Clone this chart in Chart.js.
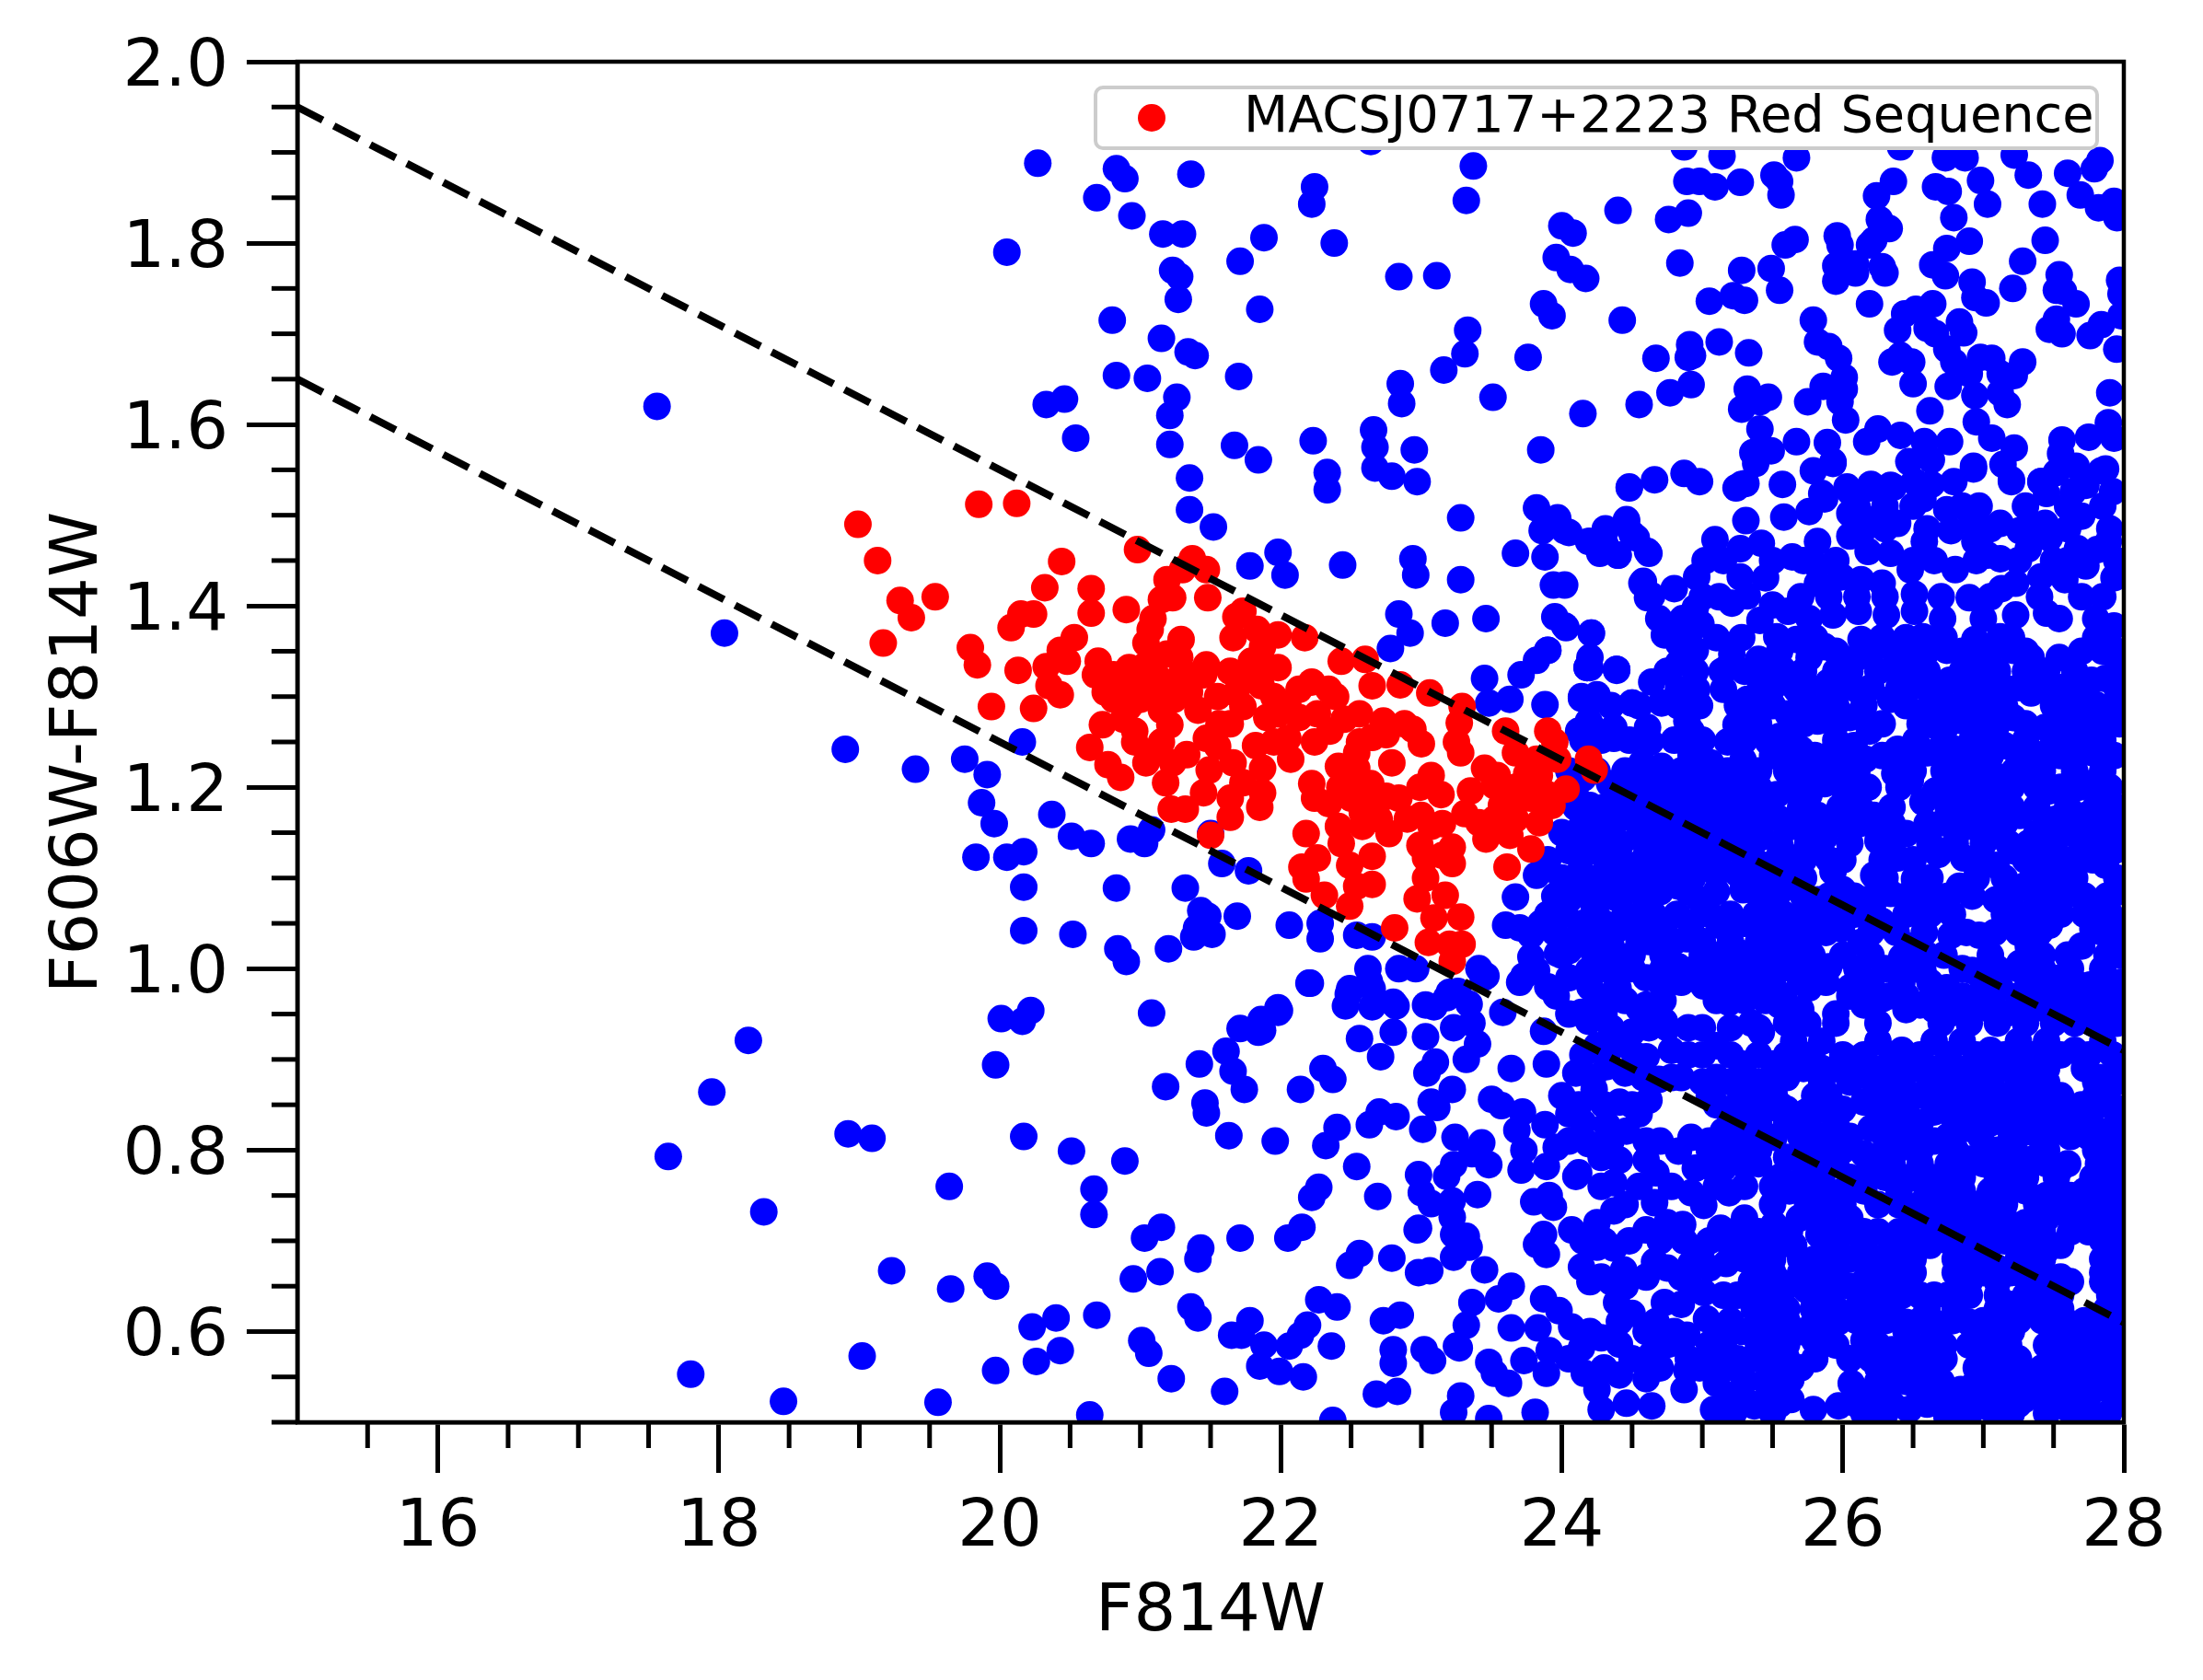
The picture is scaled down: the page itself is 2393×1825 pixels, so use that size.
<!DOCTYPE html>
<html><head><meta charset="utf-8">
<style>html,body{margin:0;padding:0;background:#fff}canvas{display:block}</style>
<script src="https://cdn.jsdelivr.net/npm/chart.js@4/dist/chart.umd.min.js"></script>
</head><body><canvas id="c" width="2393" height="1825"></canvas>
<script>
const xMajorTicks=[16,18,20,22,24,26,28];
const xMinorTicks=[15.5,16.5,17,17.5,18.5,19,19.5,20.5,21,21.5,22.5,23,23.5,24.5,25,25.5,26.5,27,27.5];
const yMajorTicks=[0.6,0.8,1.0,1.2,1.4,1.6,1.8,2.0];
const yMinorTicks=[0.5,0.55,0.65,0.7,0.75,0.85,0.9,0.95,1.05,1.1,1.15,1.25,1.3,1.35,1.45,1.5,1.55,1.65,1.7,1.75,1.85,1.9,1.95];
const upperLine=[{x:15,y:1.95},{x:28,y:0.91}];
const lowerLine=[{x:15,y:1.65},{x:28,y:0.61}];
const legendLabel="MACSJ0717+2223 Red Sequence";
const redPoints=[[18.99,1.49],[19.85,1.512],[20.12,1.513],[19.13,1.45],[19.29,1.406],[19.37,1.387],[19.54,1.41],[19.17,1.359],[19.79,1.354],[19.84,1.335],[19.94,1.289],[20.24,1.287],[20.13,1.329],[20.08,1.376],[20.15,1.391],[20.24,1.391],[20.44,1.449],[20.32,1.42],[20.65,1.419],[20.65,1.392],[20.9,1.396],[20.98,1.462],[21.37,1.452],[21.47,1.44],[21.3,1.44],[21.19,1.429],[21.23,1.409],[21.15,1.407],[21.48,1.409],[21.09,1.386],[21.07,1.374],[20.53,1.365],[20.43,1.351],[20.48,1.339],[20.33,1.333],[20.35,1.312],[20.43,1.302],[20.7,1.339],[20.68,1.324],[20.81,1.297],[21.0,1.297],[20.81,1.324],[20.92,1.332],[21.04,1.359],[21.04,1.335],[21.11,1.324],[21.19,1.347],[21.29,1.363],[21.28,1.343],[21.23,1.316],[21.3,1.328],[20.81,1.308],[20.92,1.289],[20.96,1.312],[21.07,1.308],[21.24,1.297],[21.45,1.324],[21.47,1.335],[21.64,1.328],[21.75,1.32],[21.88,1.332],[21.68,1.304],[21.86,1.312],[21.98,1.332],[21.41,1.285],[21.56,1.27],[21.64,1.27],[21.47,1.254],[21.21,1.269],[21.73,1.394],[21.68,1.388],[21.66,1.365],[21.83,1.374],[21.98,1.368],[22.17,1.365],[21.87,1.355],[21.79,1.339],[21.73,1.289],[22.13,1.308],[22.22,1.316],[22.34,1.308],[22.43,1.339],[22.6,1.341],[22.65,1.312],[22.85,1.313],[23.06,1.304],[22.39,1.3],[22.56,1.281],[23.29,1.289],[23.27,1.271],[23.25,1.25],[23.28,1.238],[22.94,1.264],[23.0,1.248],[22.73,1.273],[22.75,1.258],[22.79,1.227],[22.56,1.25],[22.54,1.238],[22.35,1.262],[22.26,1.281],[22.24,1.25],[22.13,1.277],[22.05,1.254],[21.98,1.281],[21.9,1.277],[21.82,1.246],[22.07,1.231],[21.87,1.221],[20.73,1.269],[20.64,1.244],[20.96,1.262],[20.96,1.25],[21.07,1.238],[20.77,1.225],[20.86,1.211],[21.04,1.227],[21.23,1.227],[21.33,1.236],[21.18,1.205],[21.66,1.227],[21.49,1.219],[21.45,1.194],[21.73,1.205],[21.64,1.188],[21.87,1.194],[21.85,1.178],[21.22,1.176],[21.32,1.176],[21.64,1.167],[21.5,1.147],[22.18,1.149],[22.26,1.122],[22.15,1.112],[22.18,1.099],[22.31,1.081],[22.22,1.204],[22.24,1.188],[22.34,1.182],[22.41,1.223],[22.54,1.221],[22.5,1.207],[22.64,1.204],[22.5,1.188],[22.58,1.172],[22.41,1.157],[22.58,1.157],[22.43,1.138],[22.77,1.149],[22.84,1.188],[22.65,1.18],[23.07,1.213],[22.99,1.2],[23.14,1.192],[23.0,1.169],[23.07,1.157],[22.99,1.136],[23.22,1.134],[23.03,1.122],[23.22,1.116],[22.49,1.114],[22.65,1.124],[22.65,1.093],[22.54,1.091],[22.49,1.069],[23.03,1.1],[22.97,1.077],[23.17,1.081],[23.09,1.056],[23.28,1.057],[22.81,1.045],[23.05,1.029],[23.29,1.027],[23.22,1.008],[23.2,1.027],[23.45,1.221],[23.54,1.213],[23.35,1.196],[23.52,1.202],[23.31,1.171],[23.41,1.161],[23.52,1.165],[23.67,1.2],[23.67,1.182],[23.46,1.143],[23.67,1.165],[23.84,1.161],[23.63,1.147],[23.78,1.132],[23.61,1.112],[23.6,1.262],[23.67,1.238],[23.9,1.262],[23.95,1.25],[23.82,1.231],[23.97,1.231],[23.84,1.213],[24.03,1.198],[23.9,1.192],[24.19,1.231],[24.23,1.219],[23.78,1.188],[23.93,1.18],[21.1,1.345],[21.35,1.305],[21.55,1.3],[21.95,1.3],[22.05,1.29],[22.45,1.275],[22.65,1.255],[22.88,1.27],[21.55,1.245],[21.15,1.25],[22.42,1.2],[22.75,1.19],[22.9,1.165],[22.7,1.165],[23.15,1.16],[23.15,1.125],[23.57,1.18],[23.75,1.215],[21.95,1.25],[20.88,1.275],[20.75,1.305],[21.15,1.285]];
const blueLeft=[[17.56,1.62],[18.04,1.37],[18.9,1.242],[19.4,1.22],[19.75,1.231],[19.91,1.214],[19.87,1.183],[19.96,1.16],[19.83,1.123],[20.05,1.123],[20.17,1.129],[20.17,1.09],[20.17,1.042],[20.16,1.25],[20.37,1.17],[20.51,1.146],[20.65,1.138],[20.52,1.038],[20.83,1.089],[20.84,1.022],[20.9,1.008],[20.93,1.143],[21.03,1.138],[21.08,1.153],[21.2,1.022],[21.32,1.089],[21.4,1.045],[21.43,1.064],[21.48,1.058],[21.51,1.038],[21.38,1.035],[21.69,1.058],[21.58,1.116],[21.77,1.108],[21.5,1.149],[22.06,1.048],[22.28,1.05],[22.28,1.033],[22.2,0.984],[21.08,0.951],[20.01,0.945],[20.16,0.942],[20.22,0.954],[19.97,0.894],[20.17,0.815],[20.51,0.799],[20.89,0.788],[20.67,0.757],[20.67,0.729],[19.64,0.76],[18.92,0.818],[19.09,0.813],[17.64,0.793],[17.95,0.864],[18.21,0.921],[18.32,0.732],[19.23,0.667],[19.65,0.647],[19.91,0.661],[19.97,0.65],[21.03,0.703],[21.15,0.715],[20.95,0.658],[21.14,0.666],[20.69,0.618],[20.23,0.605],[20.4,0.615],[19.02,0.573],[17.8,0.553],[18.46,0.523],[19.56,0.522],[19.97,0.557],[20.26,0.567],[20.43,0.579],[20.64,0.508],[21.01,0.59],[21.06,0.576],[21.22,0.548],[21.6,0.534],[21.41,0.68],[21.43,0.692],[21.36,0.627],[21.41,0.615],[21.71,0.703],[21.18,0.87],[21.42,0.895],[21.46,0.852],[21.47,0.841],[21.63,0.816],[21.61,0.909],[21.71,0.934],[21.66,0.887],[21.84,0.93],[21.87,0.932],[21.98,0.952],[21.74,0.867],[21.96,0.81],[22.14,0.867],[22.3,0.89],[22.37,0.878],[22.4,0.825],[22.32,0.805],[22.27,0.759],[22.22,0.748],[22.54,0.782],[22.69,0.749],[22.05,0.703],[22.15,0.715],[21.65,0.596],[21.72,0.596],[21.78,0.612],[21.88,0.585],[21.85,0.562],[21.99,0.556],[22.06,0.584],[22.14,0.596],[22.19,0.607],[22.16,0.55],[22.27,0.635],[22.4,0.627],[22.36,0.584],[22.37,0.502],[22.49,0.673],[22.56,0.686],[22.79,0.681],[22.97,0.712],[22.73,0.612],[22.85,0.618],[22.8,0.58],[22.8,0.565],[22.68,0.531],[22.83,0.534],[22.98,0.665],[23.06,0.667],[23.02,0.58],[23.08,0.568],[23.25,0.584]];
const blueTop=[[20.27,1.888],[20.83,1.882],[20.89,1.871],[21.36,1.876],[20.69,1.85],[20.94,1.83],[21.16,1.81],[21.3,1.81],[21.23,1.77],[21.28,1.763],[21.27,1.738],[22.24,1.862],[22.22,1.843],[22.38,1.8],[20.05,1.79],[21.71,1.78],[21.88,1.806],[21.85,1.727],[20.8,1.715],[21.15,1.695],[20.83,1.654],[21.05,1.651],[20.33,1.622],[20.46,1.628],[20.54,1.585],[21.26,1.63],[21.21,1.61],[21.34,1.68],[21.39,1.676],[21.7,1.653],[21.21,1.578],[21.67,1.577],[21.84,1.561],[21.35,1.541],[21.35,1.506],[21.52,1.487],[22.23,1.582],[22.33,1.547],[22.33,1.528],[21.78,1.444],[21.98,1.459],[22.03,1.434],[22.44,1.445],[22.84,1.763],[23.11,1.764],[22.64,1.912],[23.37,1.885],[23.32,1.847],[23.33,1.704],[23.31,1.678],[23.16,1.66],[22.85,1.645],[22.86,1.623],[22.66,1.594],[22.67,1.575],[22.67,1.552],[22.79,1.543],[22.97,1.537],[22.95,1.572],[23.51,1.63],[23.28,1.497],[22.94,1.452],[22.96,1.434],[23.28,1.429],[22.84,1.391],[22.92,1.37],[22.78,1.353],[23.17,1.381],[23.46,1.386],[23.76,1.674],[23.87,1.733],[23.93,1.72],[24.0,1.819],[24.08,1.811],[23.96,1.784],[24.06,1.771],[24.17,1.761],[24.15,1.612],[23.85,1.572],[24.4,1.836],[24.43,1.715],[24.55,1.622],[24.67,1.673],[24.77,1.635],[24.92,1.644],[24.91,1.688],[24.93,1.676],[24.9,1.674],[24.76,1.826],[24.9,1.833],[24.84,1.778],[24.87,1.906],[25.14,1.896],[25.67,1.894],[26.41,1.906],[26.73,1.894],[26.87,1.894],[27.22,1.897],[27.32,1.875],[27.6,1.877],[27.79,1.882],[27.83,1.891],[24.89,1.868],[24.98,1.868],[25.09,1.862],[25.27,1.867],[25.51,1.875],[25.55,1.868],[25.56,1.853],[26.36,1.868],[26.24,1.852],[26.66,1.862],[26.75,1.857],[26.98,1.869],[27.03,1.843],[27.42,1.843],[27.69,1.853],[27.82,1.839],[27.93,1.846],[27.95,1.828],[26.26,1.826],[26.33,1.816],[26.79,1.828],[25.96,1.808],[25.98,1.798],[25.66,1.804],[25.59,1.798],[26.22,1.803],[26.19,1.798],[26.74,1.794],[26.9,1.802],[27.44,1.803],[25.28,1.77],[25.49,1.772],[25.95,1.775],[26.09,1.777],[25.95,1.758],[26.09,1.767],[26.28,1.774],[26.3,1.767],[26.64,1.776],[26.73,1.764],[27.28,1.78],[27.54,1.765],[26.92,1.757],[27.52,1.748],[27.57,1.747],[27.97,1.759],[25.55,1.748],[25.22,1.742],[25.3,1.737],[25.05,1.736],[26.94,1.74],[27.02,1.734],[27.21,1.75],[26.19,1.733],[27.66,1.733],[26.64,1.733],[26.52,1.727],[26.44,1.722],[27.98,1.744],[25.79,1.715],[26.83,1.713],[26.86,1.701],[27.52,1.716],[27.47,1.705],[27.56,1.7],[27.76,1.698],[27.84,1.71],[27.98,1.72],[26.39,1.704],[26.6,1.706],[26.66,1.7],[25.12,1.691],[25.33,1.679],[25.82,1.691],[25.9,1.686],[25.97,1.673],[27.95,1.683],[26.41,1.676],[26.35,1.669],[26.49,1.669],[26.74,1.683],[26.79,1.669],[26.98,1.674],[27.06,1.673],[27.28,1.669],[26.01,1.652],[26.9,1.656],[27.12,1.656],[27.22,1.654],[26.5,1.645],[26.75,1.642],[26.94,1.632],[27.12,1.635],[27.17,1.622],[25.86,1.642],[26.01,1.639],[25.75,1.625],[25.98,1.625],[25.32,1.639],[25.47,1.63],[25.28,1.617],[25.41,1.625],[27.9,1.635],[26.62,1.615],[26.02,1.605],[26.95,1.603],[27.89,1.602],[25.41,1.595],[26.25,1.595],[26.41,1.588],[26.17,1.581],[25.67,1.581],[25.89,1.58],[26.58,1.581],[26.76,1.581],[27.06,1.585],[27.22,1.574],[27.56,1.583],[27.75,1.586],[27.93,1.585],[25.49,1.571],[25.36,1.569],[25.93,1.559],[25.79,1.549],[26.47,1.559],[26.63,1.561],[26.93,1.554],[27.14,1.556],[27.55,1.568],[27.66,1.554],[27.87,1.551],[24.87,1.546],[24.98,1.537],[24.66,1.539],[24.48,1.531],[25.28,1.534],[25.57,1.534],[27.41,1.537],[27.2,1.539],[26.79,1.537],[25.85,1.524],[26.03,1.531],[26.2,1.534],[26.36,1.531],[26.52,1.536],[26.63,1.534]];
const blueMid=[[25.24,1.53],[25.31,1.535],[25.38,1.557],[25.93,1.557],[25.87,1.518],[26.05,1.526],[26.19,1.53],[26.34,1.533],[26.51,1.537],[26.57,1.518],[26.93,1.551],[27.2,1.537],[27.41,1.537],[27.45,1.524],[27.52,1.547],[27.73,1.533],[27.92,1.526],[27.84,1.549],[27.64,1.526],[26.05,1.502],[26.22,1.495],[26.39,1.491],[25.76,1.504],[25.58,1.498],[25.31,1.494],[24.46,1.493],[24.31,1.485],[24.02,1.483],[26.74,1.506],[26.97,1.51],[26.92,1.493],[27.12,1.491],[27.26,1.483],[27.44,1.491],[27.7,1.499],[24.19,1.471],[24.31,1.467],[24.4,1.456],[24.53,1.475],[24.62,1.458],[25.09,1.473],[25.02,1.45],[25.27,1.463],[25.42,1.469],[25.64,1.454],[25.82,1.471],[26.05,1.477],[26.18,1.46],[26.34,1.458],[26.58,1.471],[26.77,1.483],[27.03,1.456],[27.12,1.452],[26.94,1.471],[27.32,1.463],[27.47,1.475],[27.67,1.463],[27.89,1.471],[27.81,1.462],[24.58,1.427],[24.8,1.419],[24.96,1.432],[24.64,1.411],[25.27,1.432],[25.45,1.431],[25.21,1.403],[25.32,1.411],[25.82,1.425],[25.99,1.432],[25.82,1.444],[26.13,1.429],[26.28,1.425],[26.48,1.44],[26.51,1.413],[26.8,1.44],[26.9,1.409],[27.13,1.419],[27.23,1.425],[27.41,1.432],[27.58,1.429],[27.93,1.431],[27.73,1.444],[24.02,1.423],[24.02,1.378],[24.21,1.37],[24.69,1.386],[24.73,1.368],[24.95,1.398],[24.99,1.38],[24.86,1.386],[25.5,1.401],[25.61,1.394],[25.41,1.384],[25.28,1.365],[25.76,1.386],[25.93,1.39],[26.11,1.394],[26.31,1.39],[26.51,1.394],[26.71,1.386],[27.0,1.386],[27.23,1.39],[27.45,1.392],[27.54,1.386],[27.8,1.386],[27.93,1.378],[24.2,1.343],[24.18,1.332],[24.39,1.33],[24.83,1.359],[24.95,1.351],[24.83,1.337],[25.18,1.332],[25.21,1.347],[25.4,1.341],[25.53,1.366],[25.67,1.363],[25.76,1.343],[25.87,1.355],[26.1,1.343],[26.13,1.363],[26.37,1.349],[26.57,1.366],[26.51,1.339],[26.74,1.351],[26.94,1.363],[26.94,1.339],[27.12,1.366],[27.21,1.351],[27.34,1.343],[27.54,1.343],[27.9,1.357],[27.96,1.343],[24.14,1.3],[24.26,1.297],[24.5,1.293],[24.64,1.316],[24.83,1.308],[24.71,1.293],[24.96,1.308],[25.14,1.328],[25.15,1.308],[25.32,1.297],[25.41,1.318],[25.57,1.33],[25.67,1.308],[25.82,1.3],[25.9,1.316],[26.1,1.308],[26.25,1.328],[26.34,1.297],[26.51,1.312],[26.63,1.293],[26.76,1.318],[27.0,1.318],[27.0,1.293],[27.18,1.308],[27.34,1.304],[27.44,1.308],[27.61,1.3],[27.77,1.318],[27.87,1.32],[27.8,1.291],[27.93,1.281],[24.19,1.273],[24.37,1.266],[24.61,1.266],[24.89,1.273],[24.92,1.262],[25.24,1.269],[25.29,1.289],[25.42,1.289],[25.61,1.281],[25.55,1.256],[25.82,1.273],[26.05,1.277],[26.19,1.262],[26.63,1.281],[26.68,1.266],[26.86,1.273],[27.03,1.258],[27.21,1.277],[27.44,1.266],[27.61,1.277],[27.76,1.254],[27.7,1.266],[24.37,1.254],[24.63,1.25],[24.71,1.223],[24.57,1.227],[24.92,1.235],[25.18,1.25],[25.29,1.23],[25.06,1.227],[25.47,1.25],[25.76,1.219],[25.7,1.242],[25.9,1.235],[26.16,1.231],[26.08,1.246],[26.39,1.242],[26.37,1.215],[26.6,1.238],[26.8,1.242],[26.97,1.227],[27.15,1.246],[27.35,1.238],[27.55,1.235],[27.78,1.238],[27.93,1.235],[24.34,1.204],[24.6,1.207],[24.77,1.2],[24.95,1.192],[25.18,1.204],[25.29,1.188],[25.53,1.192],[25.64,1.2],[25.76,1.192],[25.87,1.204],[26.09,1.204],[26.48,1.207],[26.66,1.196],[26.57,1.184],[26.92,1.211],[27.12,1.196],[27.29,1.211],[27.47,1.196],[27.76,1.204],[27.9,1.2],[26.89,1.184],[27.06,1.172],[27.9,1.172],[24.14,1.157],[24.31,1.149],[24.51,1.165],[24.69,1.153],[24.89,1.165],[25.06,1.153],[25.27,1.172],[25.29,1.149],[25.47,1.172],[25.64,1.157],[25.82,1.169],[25.87,1.145],[26.05,1.169],[26.22,1.169],[26.45,1.149],[26.25,1.141],[26.71,1.161],[26.89,1.157],[27.06,1.153],[27.26,1.169],[27.38,1.149],[27.52,1.165],[27.73,1.169],[27.9,1.149],[27.64,1.149],[24.31,1.122],[24.48,1.114],[24.69,1.126],[24.89,1.122],[25.03,1.114],[25.27,1.13],[25.44,1.114],[25.64,1.122],[25.82,1.13],[25.93,1.107],[26.22,1.103],[26.39,1.122],[26.51,1.099],[26.68,1.126],[26.86,1.122],[27.09,1.114],[27.21,1.13],[27.38,1.114],[27.55,1.122],[27.87,1.114],[27.93,1.13],[24.25,1.072],[24.37,1.079],[24.6,1.076],[24.83,1.091],[24.98,1.076],[25.29,1.087],[25.47,1.072],[25.64,1.091],[25.82,1.076],[26.0,1.087],[26.16,1.076],[26.34,1.083],[26.54,1.068],[26.68,1.076],[26.83,1.091],[27.09,1.076],[27.29,1.091],[27.47,1.072],[27.64,1.083],[27.81,1.068],[27.93,1.083],[24.14,1.041],[24.4,1.044],[24.71,1.044],[24.89,1.033],[25.12,1.048],[25.27,1.017],[25.53,1.037],[25.79,1.041],[25.99,1.044],[26.13,1.029],[26.28,1.052],[26.48,1.025],[26.77,1.037],[26.97,1.037],[27.18,1.052],[27.32,1.025],[27.47,1.048],[27.78,1.044],[27.93,1.037],[27.7,1.025],[24.37,1.013],[24.19,0.998],[24.4,0.979],[24.6,0.99],[24.83,1.002],[25.21,0.979],[25.03,1.002],[25.41,0.99],[25.64,1.0],[25.9,1.002],[26.05,0.979],[26.28,0.967],[26.42,1.013],[26.57,0.998],[26.74,0.979],[26.92,0.998],[27.26,1.006],[27.55,0.99],[27.76,0.982],[27.9,0.979],[27.12,0.979],[25.76,0.979],[25.58,0.97]];
const blueEdge=[[23.45,1.32],[23.71,1.324],[23.9,1.351],[23.48,1.293],[23.63,1.297],[23.88,1.291],[24.14,1.298],[24.25,1.302],[24.5,1.293],[24.18,1.332],[24.39,1.33],[24.2,1.27],[24.35,1.258],[24.12,1.262],[24.2,1.18],[24.42,1.172],[24.16,1.145],[24.05,1.13],[23.82,1.103],[23.67,1.079],[23.6,1.048],[23.78,1.037],[24.05,1.076],[23.9,1.06],[24.23,1.068],[24.12,1.037],[23.78,1.013],[23.82,0.998],[23.97,1.017],[24.23,1.017],[24.35,1.025],[24.39,0.99],[24.05,0.99],[24.2,0.98],[22.62,1.0],[22.54,1.037],[22.65,1.035],[22.84,1.0],[22.96,1.0],[23.41,1.0],[23.44,0.99],[23.26,0.975],[23.03,0.96],[23.18,0.968],[22.49,0.978],[22.8,0.963],[22.65,0.978],[21.98,0.957],[23.67,1.458],[23.88,1.454],[23.94,1.423],[23.82,1.508],[23.97,1.497],[23.86,1.483],[24.05,1.481],[24.2,1.471],[24.31,1.483],[24.46,1.495],[24.27,1.458],[24.4,1.456],[24.5,1.479],[24.61,1.46],[24.48,1.53],[24.57,1.425],[24.61,1.409],[23.95,1.388],[24.03,1.376],[24.21,1.37],[23.9,1.351],[23.82,1.34],[24.2,1.332],[24.39,1.329],[23.95,1.08],[23.9,1.12],[24.0,1.15],[23.85,1.05],[23.95,1.04],[23.7,1.045],[24.05,1.02],[23.9,0.98],[23.7,0.985]];
const blueLow=[[22.21,0.984],[22.48,0.972],[22.63,0.986],[22.46,0.959],[22.65,0.958],[22.82,0.959],[21.99,0.954],[21.86,0.944],[22.56,0.923],[22.8,0.93],[23.03,0.925],[23.09,0.958],[23.2,0.974],[23.34,0.961],[23.23,0.935],[23.36,0.94],[23.4,0.917],[23.58,0.952],[23.46,0.992],[22.71,0.903],[23.1,0.897],[23.04,0.885],[23.32,0.9],[23.22,0.867],[23.07,0.853],[23.11,0.847],[22.7,0.842],[22.82,0.837],[22.63,0.828],[23.01,0.823],[23.5,0.856],[23.57,0.849],[23.72,0.842],[23.68,0.822],[23.88,0.828],[23.24,0.814],[23.43,0.808],[23.36,0.796],[23.48,0.784],[23.73,0.8],[23.71,0.778],[23.89,0.782],[23.96,0.803],[24.12,0.775],[24.19,0.807],[24.28,0.792],[22.98,0.773],[23.18,0.771],[23.23,0.784],[23.0,0.753],[23.4,0.751],[23.07,0.741],[23.22,0.744],[23.22,0.726],[23.8,0.743],[23.91,0.75],[23.94,0.737],[24.37,0.764],[24.37,0.733],[24.66,0.742],[24.1,0.771],[24.28,0.76],[22.98,0.714],[23.23,0.707],[23.32,0.705],[23.23,0.682],[23.34,0.693],[23.45,0.668],[23.64,0.65],[24.07,0.712],[23.87,0.707],[23.82,0.696],[23.89,0.685],[24.25,0.693],[24.14,0.671],[24.28,0.66],[24.44,0.668],[24.66,0.677],[24.6,0.712],[24.48,0.7],[24.37,0.692],[24.86,0.718],[24.87,0.7],[25.13,0.714],[24.99,0.689],[24.92,0.675],[25.17,0.675],[25.37,0.673],[25.01,0.739],[24.92,0.753],[25.19,0.753],[25.05,0.782],[25.28,0.785],[24.83,0.799],[24.6,0.789],[24.41,0.789],[24.67,0.775],[23.36,0.632],[23.55,0.636],[23.87,0.636],[23.98,0.623],[24.39,0.632],[24.73,0.632],[25.01,0.643],[25.03,0.614],[24.67,0.611],[23.32,0.607],[23.64,0.604],[24.07,0.605],[23.83,0.604],[24.41,0.611],[23.27,0.582],[23.48,0.566],[23.73,0.568],[23.89,0.554],[23.91,0.579],[24.14,0.582],[24.16,0.554],[24.28,0.593],[24.41,0.586],[24.64,0.575],[24.76,0.586],[24.89,0.596],[24.89,0.557],[25.05,0.586],[25.28,0.6],[25.6,0.586],[23.28,0.529],[23.23,0.511],[23.48,0.504],[23.62,0.543],[23.52,0.554],[23.81,0.511],[24.41,0.552],[24.25,0.536],[24.6,0.548],[24.28,0.514],[24.46,0.521],[24.64,0.518],[24.87,0.536],[25.1,0.543],[25.08,0.514],[25.28,0.557],[25.37,0.518],[25.63,0.547],[25.63,0.525],[25.79,0.514],[25.97,0.518],[26.06,0.543],[26.17,0.529],[26.38,0.547],[26.47,0.514],[26.61,0.543],[26.74,0.507],[26.84,0.536],[27.02,0.543],[27.06,0.514],[27.29,0.525],[27.48,0.543],[27.61,0.514],[27.89,0.536],[27.89,0.51],[25.42,0.646],[25.5,0.625],[25.74,0.646],[25.79,0.625],[25.37,0.625],[25.97,0.611],[26.2,0.628],[23.73,0.992],[23.96,0.97],[24.14,0.952],[24.37,0.974],[24.55,0.956],[24.73,0.942],[25.01,0.981],[25.19,0.963],[23.87,0.931],[24.19,0.942],[24.41,0.917],[24.6,0.903],[24.78,0.91],[23.89,0.895],[23.64,0.89],[24.1,0.885],[24.32,0.892],[24.0,0.86],[24.23,0.867],[24.41,0.853],[24.32,0.828],[24.46,0.821],[24.69,0.878],[25.15,0.821],[24.92,0.814],[25.05,0.86],[25.19,0.842],[25.33,0.878],[25.51,0.863],[25.74,0.842],[25.28,0.895],[25.51,0.895],[25.28,0.814],[25.51,0.814],[25.6,0.792],[25.51,0.718],[25.69,0.725],[25.88,0.735],[25.97,0.753],[25.83,0.707],[25.51,0.696],[25.97,0.817],[26.2,0.824],[26.15,0.853],[26.15,0.796],[25.88,0.799],[26.42,0.803],[26.65,0.81],[26.88,0.824],[27.11,0.835],[26.42,0.831],[26.65,0.842]];
const blueDense=[[25.35,0.98],[25.55,0.96],[25.95,0.95],[26.15,0.96],[26.33,0.97],[26.55,0.96],[26.75,0.95],[26.95,0.96],[27.15,0.95],[27.35,0.96],[27.55,0.95],[27.72,0.96],[27.9,0.95],[25.42,0.93],[25.65,0.92],[25.85,0.92],[26.25,0.92],[26.42,0.91],[26.65,0.92],[26.85,0.92],[27.05,0.91],[27.25,0.92],[27.45,0.92],[27.65,0.91],[27.85,0.92],[27.97,0.89],[25.72,0.89],[25.95,0.89],[26.12,0.89],[26.32,0.88],[26.52,0.89],[26.72,0.88],[26.95,0.88],[27.15,0.89],[27.35,0.88],[27.82,0.88],[25.9,0.86],[26.38,0.85],[26.58,0.86],[26.85,0.85],[27.05,0.86],[27.25,0.85],[27.45,0.85],[27.7,0.85],[27.9,0.85],[27.3,0.82],[27.5,0.82],[27.85,0.82],[27.1,0.8],[26.9,0.79],[27.35,0.79],[27.55,0.78],[27.92,0.79],[26.05,0.77],[26.3,0.77],[26.5,0.77],[26.7,0.76],[27.2,0.76],[27.85,0.76],[27.45,0.75],[27.62,0.75],[26.4,0.74],[26.62,0.73],[26.85,0.74],[27.05,0.73],[27.3,0.72],[27.95,0.73],[27.78,0.73],[26.05,0.71],[26.25,0.71],[26.5,0.7],[26.75,0.7],[26.95,0.71],[27.15,0.7],[27.45,0.69],[27.85,0.7],[25.7,0.68],[25.9,0.68],[26.15,0.68],[26.4,0.67],[26.9,0.67],[27.1,0.67],[27.3,0.66],[27.55,0.66],[27.95,0.67],[25.6,0.65],[26.05,0.65],[26.3,0.64],[26.55,0.64],[26.75,0.64],[27.2,0.63],[27.45,0.63],[27.9,0.64],[26.45,0.61],[26.65,0.61],[26.9,0.61],[27.1,0.6],[27.6,0.61],[27.8,0.61],[27.98,0.61],[25.8,0.59],[26.15,0.59],[26.35,0.58],[26.6,0.58],[27.0,0.58],[27.55,0.58],[27.75,0.58],[27.95,0.58],[25.35,0.57],[25.45,0.59],[26.05,0.57],[26.45,0.56],[26.65,0.56],[27.1,0.56],[27.3,0.55],[27.65,0.55],[27.95,0.555]];
const blueRowsA=[[1.51,[26.1,26.3,26.5,26.85,27.3,27.6,27.85]],[1.485,[26.15,26.3,26.6,27.05,27.35,27.6,27.9]],[1.45,[25.15,25.5,25.72,25.95,26.5,26.65,26.95,27.25,27.5,27.6,27.95]],[1.41,[25.0,25.12,25.7,25.9,26.1,26.3,26.7,27.05,27.4,27.7,27.85]],[1.365,[24.9,25.1,25.8,26.28,26.45,26.72,27.2,27.8]],[1.35,[25.55,25.95,26.2,26.6,26.85,27.05,27.3,27.7,27.85]],[1.328,[24.75,24.95,25.3,25.5,25.72,25.95,26.05,26.4,26.6,26.85,27.1,27.3,27.45,27.65,27.95]],[1.31,[25.5,25.75,26.0,26.2,26.4,26.65,26.88,27.1,27.25,27.55,27.7,27.95]],[1.29,[24.35,24.55,24.83,24.98,25.25,25.5,25.7,25.95,26.15,26.45,26.75,26.9,27.15,27.5,27.7,27.92]],[1.27,[25.4,25.72,25.95,26.28,26.55,26.75,26.95,27.1,27.3,27.52,27.85,27.97]],[1.252,[24.15,24.28,24.48,24.8,25.0,25.3,25.62,25.95,26.52,26.72,26.92,27.1,27.3,27.5,27.65,27.85]],[1.235,[25.5,25.62,25.8,26.0,26.28,26.5,26.7,26.88,27.05,27.25,27.45,27.65,27.85]],[1.218,[24.05,24.25,24.45,24.85,25.0,25.18,25.4,25.6,25.95,26.1,26.5,26.72,26.87,27.05,27.22,27.42,27.65,27.85]],[1.21,[24.15,24.5,24.68,24.9,25.1,25.32]],[1.2,[25.4,26.0,26.18,26.4,26.78,27.0,27.2,27.38,27.55,27.68,27.85]],[1.19,[24.1,24.42,24.6,24.85,25.05,25.2,25.42]],[1.178,[24.1,24.3,24.5,24.7,24.88,25.08,25.15,25.4,25.7,25.98,26.12,26.35,26.75,26.95,27.2,27.38,27.6,27.8,27.95]],[1.165,[24.25,24.4,24.62,24.8,25.0,25.18,25.38,25.55]],[1.16,[25.72,25.95,26.12,26.35,26.6,26.8,26.98,27.15,27.45,27.62,27.8,27.97]],[1.145,[24.1,24.55,24.78,24.95,25.2,25.42]],[1.138,[24.22,24.42,24.6,24.8,24.98,25.15,25.36,25.55,25.75,26.05,26.32,26.62,26.8,27.0,27.18,27.32,27.5,27.7,27.82,27.97]],[1.125,[24.15,24.4,24.6,24.8,24.98,25.12,25.35,25.55]],[1.12,[25.72,25.9,26.0,26.28,26.5,26.95,27.3,27.45,27.65,27.78]],[1.105,[24.12,24.3,24.48,24.68,24.85,25.1,25.25,25.45]],[1.1,[24.0,24.18,24.38,24.58,24.75,24.93,25.35,25.55,25.72,26.3,26.62,26.95,27.15,27.35,27.5,27.65,27.95]],[1.085,[24.05,24.22,24.45,24.7,24.9,25.1,25.38,25.55]],[1.08,[25.72,25.9,26.08,26.25,26.45,26.6,26.75,26.92,27.2,27.38,27.55,27.72,27.88]],[1.06,[24.02,24.45,24.65,24.82,25.05,25.2,25.38,25.58,25.72,25.9,26.08,26.22,26.45,26.62,26.78,27.15,27.32,27.55,27.72,27.9]],[1.05,[24.15,24.3,24.55,24.72,24.92,25.12,25.3,25.48]],[1.04,[25.65,25.88,26.2,26.38,26.58,26.88,27.08,27.25,27.4,27.85,27.98]],[1.03,[24.02,24.25,24.55,24.62,24.8,25.0,25.2,25.4,25.65]],[1.015,[24.0,24.5,24.72,25.0,25.12,25.45,25.6,25.78,26.0,26.2,26.6,26.72,27.05,27.42,27.6,27.88,27.98]],[1.0,[24.3,24.5,24.72,24.95,25.13,25.3,25.5,25.78,26.1,26.3,26.5,26.85,27.1,27.25,27.42,27.62,27.85]],[0.985,[24.7,25.1,25.3,25.5,25.7,25.88,26.2,26.42,26.62,27.0,27.32,27.45,27.65,27.98]]];
const blueRowsB=[[0.97,[25.45,26.05,26.25,26.45,26.65,26.85,27.05,27.25,27.45,27.62,27.82,27.98]],[0.965,[24.25,24.45,24.72,25.1,25.3,25.45]],[0.955,[25.7,26.45,26.65,26.85,27.05,27.25,27.45,27.65,27.82]],[0.94,[25.35,25.6,25.75,25.95,26.25,26.7,26.9,27.1,27.3,27.5,27.65,27.78,27.95]],[0.935,[24.35,24.62,24.75,25.0,25.2,25.4]],[0.905,[24.32,24.52,24.9,25.0,25.2,25.4,25.6,25.78,26.0,26.15,26.35,26.55,26.75,26.95,27.15,27.35,27.55,27.75,27.92]],[0.89,[25.55,25.85,26.05,26.22,26.42,26.62,26.82,27.05,27.25,27.45,27.72]],[0.88,[24.22,24.58,24.78,25.1,25.6]],[0.875,[25.0,25.2,25.42,25.85,26.05,26.22,26.42,26.62,26.82,27.05,27.25,27.45,27.8,27.95]],[0.86,[25.3,25.8,26.3,26.5,26.7,26.95,27.15,27.35,27.55,27.8]],[0.85,[24.12,24.3,24.5,25.1,25.25,25.4,25.55]],[0.845,[25.3,25.45,25.6,25.85,26.0,26.25,26.45,26.75,26.95,27.15,27.35,27.55,27.78,27.98]],[0.83,[25.4,25.6,25.75,25.95,26.3,26.55,26.8,27.05,27.2,27.42,27.6,27.75,27.95]],[0.815,[25.7,25.85,26.05,26.3,26.52,26.75,26.98,27.2,27.4,27.62,27.75,27.95]],[0.81,[24.05,24.35,24.6,24.7,25.05,25.2,25.4]],[0.8,[25.4,25.72,26.0,26.3,26.55,26.8,27.02,27.22,27.45,27.8,27.97]],[0.785,[25.15,25.4,25.75,25.95,26.2,26.35,26.55,26.75,27.0,27.2,27.45,27.6,27.82]],[0.77,[25.55,25.72,25.85,26.15,26.42,26.62,26.85,27.1,27.3,27.52,27.78,27.97]],[0.76,[24.55,24.78,25.1,25.3,25.5]],[0.755,[25.62,25.8,26.15,26.4,26.6,26.85,27.05,27.3,27.72,27.95]],[0.74,[25.5,25.75,26.0,26.25,26.55,26.72,26.95,27.15,27.38,27.55,27.72,27.88]],[0.725,[25.3,25.85,26.05,26.5,26.75,26.95,27.15,27.45,27.62,27.85]],[0.71,[25.3,25.4,25.62,25.95,26.15,26.4,26.62,26.85,27.05,27.22,27.42,27.62,27.75,27.95]],[0.7,[24.15,24.3,24.7,25.05,25.3]],[0.695,[25.2,25.35,25.65,25.95,26.15,26.35,26.62,26.85,27.05,27.3,27.55,27.95]],[0.68,[25.3,25.5,25.8,26.05,26.25,26.5,26.8,27.0,27.25,27.42,27.85]],[0.665,[25.5,25.7,25.95,26.25,26.5,26.8,27.0,27.2,27.42,27.85]],[0.655,[24.2,24.35,24.9,25.35,25.55,25.85,26.15,26.4,26.9,27.1,27.4,27.62,27.85,27.97]],[0.64,[25.25,25.45,25.9,26.15,26.42,26.65,26.9,27.1,27.3,27.55,27.98]],[0.625,[25.6,25.95,26.1,26.35,26.6,26.8,27.1,27.3,27.55,27.88]],[0.612,[25.2,25.4,25.6,25.8,26.1,26.3,26.55,26.78,27.0,27.25,27.42,27.72]],[0.6,[24.2,24.8,25.15,25.35,25.5,25.7,25.9,26.2,26.45,26.65,26.95,27.2,27.55,27.72,27.92]],[0.585,[25.15,25.4,25.55,25.95,26.25,26.5,26.72,26.9,27.18,27.45,27.65,27.85]],[0.57,[24.5,24.9,25.25,25.45,25.6,25.8,26.2,26.35,26.55,26.72,27.05,27.25,27.5,27.7,27.88]],[0.56,[25.1,25.22,25.5,25.7,26.25,26.55,26.95,27.2,27.42,27.55,27.8]],[0.545,[25.3,25.45,26.25,26.45,26.7,26.95,27.18,27.4,27.55,27.75,27.98]],[0.53,[25.22,25.48,26.3,26.55,26.72,26.9,27.15,27.38,27.6,27.75,27.98]],[0.52,[25.15,25.35,25.55,26.1,26.35,26.6,26.85,27.05,27.25,27.5,27.7,27.95]],[0.51,[25.22,25.5,26.15,26.3,26.9,27.2,27.45,27.75]]];
const blueExtra=[[24.05,0.95],[24.3,0.95],[24.5,0.93],[24.25,0.915],[24.45,0.885],[24.15,0.905],[24.85,0.88],[24.9,0.935],[25.1,0.915],[24.85,0.985],[24.6,0.96],[24.05,0.84],[24.15,0.83],[24.55,0.84],[24.62,0.855],[25.05,0.8],[24.95,0.78],[25.15,0.78],[24.75,0.72],[24.45,0.74],[24.25,0.72],[24.45,0.65],[24.6,0.66],[24.5,0.62],[24.6,0.6],[24.85,0.63],[24.85,0.66],[25.05,0.67],[25.15,0.64],[24.75,0.67],[24.7,0.56],[24.98,0.56],[24.3,0.56],[24.05,0.57]];
const rowsToPoints=rows=>rows.flatMap(r=>r[1].map(x=>[x,r[0]]));
const bluePoints=[...blueLeft,...blueTop,...blueMid,...blueEdge,...blueLow,...blueDense,...rowsToPoints(blueRowsA),...rowsToPoints(blueRowsB),...blueExtra].map(p=>({x:p[0],y:p[1]}));
const redData=redPoints.map(p=>({x:p[0],y:p[1]}));

const framePlugin={id:'frame',
 afterDraw(chart){
  const {ctx,chartArea:a,scales:{x,y}}=chart;
  ctx.save();
  ctx.strokeStyle='#000';ctx.lineWidth=5;
  xMinorTicks.forEach(v=>{const p=x.getPixelForValue(v);ctx.beginPath();ctx.moveTo(p,a.bottom);ctx.lineTo(p,a.bottom+28);ctx.stroke();});
  yMinorTicks.forEach(v=>{const p=y.getPixelForValue(v);ctx.beginPath();ctx.moveTo(a.left,p);ctx.lineTo(a.left-28,p);ctx.stroke();});
  ctx.lineWidth=4.5;ctx.strokeRect(a.left,a.top,a.right-a.left,a.bottom-a.top);
  ctx.fillStyle='#fff';ctx.strokeStyle='#cccccc';ctx.lineWidth=4;
  ctx.beginPath();ctx.roundRect(1190,95,1088,66,8);ctx.fill();ctx.stroke();
  ctx.fillStyle='#ff0000';ctx.beginPath();ctx.arc(1251,128,15,0,Math.PI*2);ctx.fill();
  ctx.fillStyle='#000';ctx.font='55.8px "DejaVu Sans"';ctx.textBaseline='middle';ctx.textAlign='left';
  ctx.fillText(legendLabel,1351,129);
  ctx.restore();
 }};

new Chart(document.getElementById('c'),{
 type:'scatter',
 data:{datasets:[
  {label:'upper',data:upperLine,showLine:true,pointRadius:0,borderColor:'#000',borderWidth:8,borderDash:[31,13.6],borderCapStyle:'butt',clip:0},
  {label:'lower',data:lowerLine,showLine:true,pointRadius:0,borderColor:'#000',borderWidth:8,borderDash:[31,13.6],borderCapStyle:'butt',clip:0},
  {label:legendLabel,data:redData,pointRadius:15,pointHoverRadius:15,pointBorderWidth:0,backgroundColor:'#ff0000',clip:0},
  {label:'All',data:bluePoints,pointRadius:15,pointHoverRadius:15,pointBorderWidth:0,backgroundColor:'#0000ff',clip:0}
 ]},
 plugins:[framePlugin],
 options:{responsive:false,animation:false,devicePixelRatio:1,events:[],
  layout:{padding:{top:67,right:86,left:0,bottom:0}},
  plugins:{legend:{display:false},tooltip:{enabled:false},title:{display:false}},
  scales:{
   x:{type:'linear',min:15,max:28,
    afterFit(s){s.height=280;},
    afterBuildTicks(s){s.ticks=xMajorTicks.map(v=>({value:v}));},
    grid:{drawOnChartArea:false,drawTicks:true,tickLength:55,tickWidth:5,tickColor:'#000'},
    border:{color:'#000',width:4.5},
    ticks:{color:'#000',font:{family:'"DejaVu Sans"',size:72},padding:17,autoSkip:false,maxRotation:0,callback:v=>String(v)},
    title:{display:true,text:'F814W',color:'#000',font:{family:'"DejaVu Sans"',size:72},padding:{top:0,bottom:30}}},
   y:{type:'linear',min:0.5,max:2.0,
    afterFit(s){s.width=323;},
    afterBuildTicks(s){s.ticks=yMajorTicks.map(v=>({value:v}));},
    grid:{drawOnChartArea:false,drawTicks:true,tickLength:55,tickWidth:5,tickColor:'#000'},
    border:{color:'#000',width:4.5},
    ticks:{color:'#000',font:{family:'"DejaVu Sans"',size:72},padding:20,labelOffset:7,autoSkip:false,callback:v=>v.toFixed(1)},
    title:{display:true,text:'F606W-F814W ',color:'#000',font:{family:'"DejaVu Sans"',size:72},padding:{top:43,bottom:0}}}
  }}
});
</script></body></html>
